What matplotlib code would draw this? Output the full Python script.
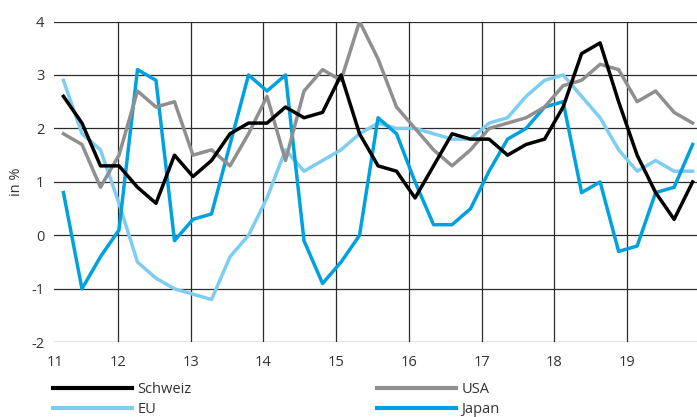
import numpy as np
import matplotlib.pyplot as plt
from matplotlib.lines import Line2D

plt.rcParams['font.family'] = ['Open Sans', 'DejaVu Sans']

# quarterly inflation rates, 2011 Q1 onwards
schweiz = [2.6, 2.1, 1.3, 1.3, 0.9, 0.6, 1.5, 1.1, 1.4, 1.9, 2.1, 2.1, 2.4, 2.2, 2.3, 3.0, 1.9,
           1.3, 1.2, 0.7, 1.3, 1.9, 1.8, 1.8, 1.5, 1.7, 1.8, 2.4, 3.4, 3.6, 2.5, 1.5, 0.8, 0.3, 1.0]
usa = [1.9, 1.7, 0.9, 1.5, 2.7, 2.4, 2.5, 1.5, 1.6, 1.3, 1.9, 2.6, 1.4, 2.7, 3.1, 2.9, 4.0,
       3.3, 2.4, 2.0, 1.6, 1.3, 1.6, 2.0, 2.1, 2.2, 2.4, 2.8, 2.9, 3.2, 3.1, 2.5, 2.7, 2.3, 2.1]
eu = [2.9, 1.9, 1.6, 0.6, -0.5, -0.8, -1.0, -1.1, -1.2, -0.4, 0.0, 0.7, 1.6, 1.2, 1.4, 1.6, 1.9,
      2.1, 2.0, 2.0, 1.9, 1.8, 1.8, 2.1, 2.2, 2.6, 2.9, 3.0, 2.6, 2.2, 1.6, 1.2, 1.4, 1.2, 1.2]
japan = [0.8, -1.0, -0.4, 0.1, 3.1, 2.9, -0.1, 0.3, 0.4, 1.7, 3.0, 2.7, 3.0, -0.1, -0.9, -0.5, 0.0,
         2.2, 1.9, 1.0, 0.2, 0.2, 0.5, 1.2, 1.8, 2.0, 2.4, 2.5, 0.8, 1.0, -0.3, -0.2, 0.8, 0.9, 1.7]
years = ['11', '12', '13', '14', '15', '16', '17', '18', '19']

x = np.linspace(11.25, 19.9, len(schweiz))
x_lo, x_hi = 11.12, 19.96

fig = plt.figure(figsize=(6.97, 4.17), dpi=100)
ax = fig.add_axes([54 / 697, 1 - 342.3 / 417, 1 - 54 / 697, (342.3 - 21.5) / 417])

grid_c = '#2b2b2b'
for yv in range(-2, 5):
    ax.axhline(yv, color=grid_c, lw=0.9, zorder=1)
for xv in range(12, 20):
    ax.axvline(xv, color=grid_c, lw=0.9, zorder=1)

c_ch, c_us, c_eu, c_jp = '#000000', '#8f8f8f', '#7dcdf1', '#00a1df'
lw = 2.5
ax.plot(x, eu, color=c_eu, lw=lw, zorder=2)
ax.plot(x, japan, color=c_jp, lw=lw, zorder=3)
ax.plot(x, usa, color=c_us, lw=lw, zorder=4)
ax.plot(x, schweiz, color=c_ch, lw=lw, zorder=5)

ax.set_xlim(x_lo, x_hi)
ax.set_ylim(-2, 4)
for s in ax.spines.values():
    s.set_visible(False)

ax.set_yticks(range(-2, 5))
ax.set_yticklabels([str(v) for v in range(-2, 5)])
ax.set_xticks([x_lo + 0.01] + list(range(12, 20)))
ax.set_xticklabels(years)
ax.tick_params(axis='y', length=0, pad=7, labelsize=10.5, labelcolor='#333333')
ax.tick_params(axis='x', length=0, pad=9, labelsize=10.5, labelcolor='#333333')
ax.set_ylabel('in %', fontsize=10.5, color='#333333')
ax.yaxis.set_label_coords(-0.047, 0.5)

# legend in two columns below the plot
h_ch = Line2D([], [], color=c_ch, lw=3)
h_eu = Line2D([], [], color=c_eu, lw=3)
h_us = Line2D([], [], color=c_us, lw=3)
h_jp = Line2D([], [], color=c_jp, lw=3)
kw = dict(frameon=False, fontsize=10.5, handlelength=5.4, handletextpad=0.4,
          labelspacing=0.35, borderpad=0, borderaxespad=0, loc='upper left',
          labelcolor='#333333')
fig.legend([h_ch, h_eu], ['Schweiz', 'EU'], bbox_to_anchor=(53 / 697, 1 - 382 / 417), **kw)
fig.legend([h_us, h_jp], ['USA', 'Japan'], bbox_to_anchor=(377 / 697, 1 - 382 / 417), **kw)

fig.savefig('out.png', dpi=100)
